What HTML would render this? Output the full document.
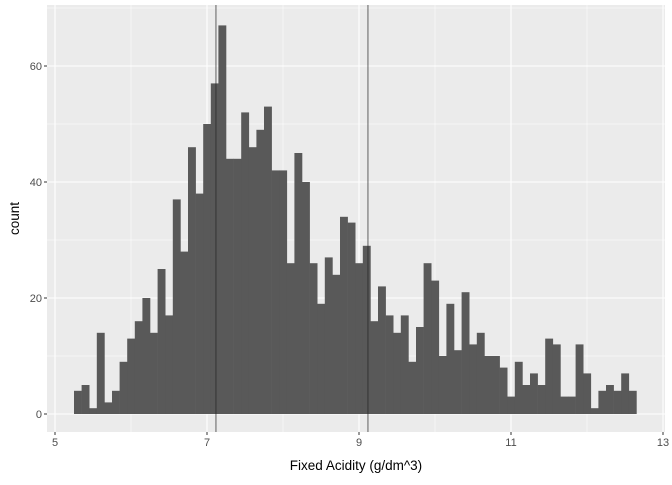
<!DOCTYPE html>
<html><head><meta charset="utf-8"><style>
body{margin:0;background:#fff;font-family:"Liberation Sans",sans-serif}
</style></head><body>
<svg id="c" width="672" height="480" xmlns="http://www.w3.org/2000/svg" font-family="Liberation Sans, sans-serif"></svg>
<script>
const counts=[4,5,1,14,2,4,9,13,16,20,14,25,17,37,28,46,38,50,57,67,44,44,52,46,49,53,42,42,26,45,40,26,19,27,24,34,33,26,29,16,22,17,14,17,9,15,26,23,10,19,11,21,12,14,10,10,8,3,9,5,7,5,13,12,3,3,12,7,1,4,5,4,7,4];
const binStart=5.25;
const binWidth=0.1;
const xTicks=[5,7,9,11,13];
const yTicks=[0,20,40,60];
const vLines=[7.118,9.118];
const svg=document.getElementById('c');
const NS='http://www.w3.org/2000/svg';
const L=47,R=665,T=5,B=432;
const xs=v=>55+(v-5)*76;
const ys=v=>414-v*5.8;
function mk(t,a,p){const e=document.createElementNS(NS,t);for(const k in a)e.setAttribute(k,a[k]);(p||svg).appendChild(e);return e;}
const bg=mk('rect',{x:L,y:T,width:R-L,height:B-T,fill:'#ebebeb'});


for(let v=6;v<=12;v+=2){const l=mk('line',{x1:xs(v),x2:xs(v),y1:T,y2:B,stroke:'#fff','stroke-width':0.55});}
for(let v=10;v<=70;v+=20){const l=mk('line',{x1:L,x2:R,y1:ys(v),y2:ys(v),stroke:'#fff','stroke-width':0.55});}
xTicks.forEach(v=>{const l=mk('line',{x1:xs(v),x2:xs(v),y1:T,y2:B,stroke:'#fff','stroke-width':1.1});
const k=mk('line',{x1:xs(v),x2:xs(v),y1:B,y2:B+3,stroke:'#333'});
const t=mk('text',{x:xs(v),y:B+14,'text-anchor':'middle','font-size':11,fill:'#4d4d4d'});t.textContent=v;});
yTicks.forEach(v=>{const l=mk('line',{x1:L,x2:R,y1:ys(v),y2:ys(v),stroke:'#fff','stroke-width':1.1});
const k=mk('line',{x1:L-3,x2:L,y1:ys(v),y2:ys(v),stroke:'#333'});
const t=mk('text',{x:L-5,y:ys(v)+4,'text-anchor':'end','font-size':11,fill:'#4d4d4d'});t.textContent=v;});
counts.forEach((c,i)=>{const x0=xs(binStart+i*binWidth),x1=xs(binStart+(i+1)*binWidth);
const r=mk('rect',{x:x0,y:ys(c),width:x1-x0+0.3,height:ys(0)-ys(c),fill:'#595959'});});
vLines.forEach(v=>{const l=mk('line',{x1:xs(v),x2:xs(v),y1:T,y2:B,stroke:'#222','stroke-width':0.7});});
const xt=mk('text',{x:(L+R)/2,y:470,'text-anchor':'middle','font-size':13.5,fill:'#000'});xt.textContent='Fixed Acidity (g/dm^3)';
const yt=mk('text',{x:0,y:0,'text-anchor':'middle','font-size':13.5,fill:'#000',transform:`translate(19,${(T+B)/2}) rotate(-90)`});yt.textContent='count';
</script>
</body></html>
